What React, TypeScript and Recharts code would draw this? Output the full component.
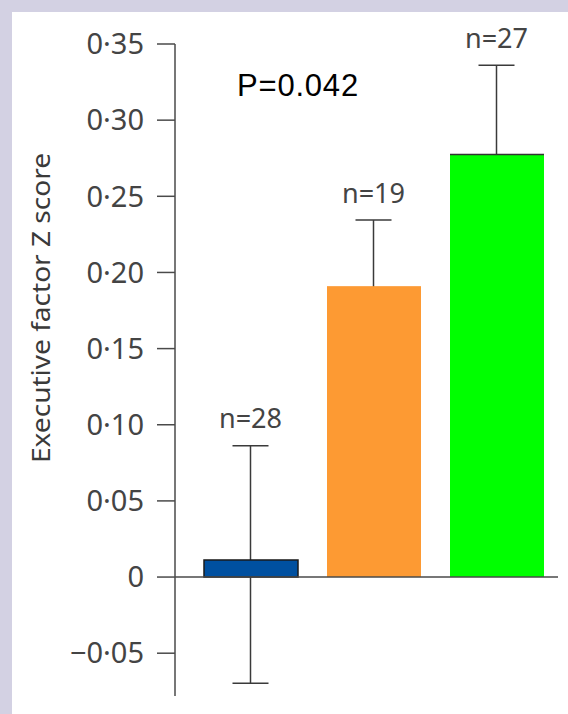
import React from 'react';
import {
  ComposedChart,
  Bar,
  Cell,
  Scatter,
  ErrorBar,
  XAxis,
  YAxis,
  ReferenceLine,
  LabelList,
} from 'recharts';

const GROUPS = ['A', 'B', 'C'];
const MEANS = [0.0112, 0.191, 0.2775];
const ERR_LOW = [0.081, 0.043, 0.058];
const ERR_HIGH = [0.075, 0.0434, 0.0585];
const N_LABELS = ['n=28', 'n=19', 'n=27'];
const Y_TICKS = [-0.05, 0, 0.05, 0.1, 0.15, 0.2, 0.25, 0.3, 0.35];

const COLORS = ['#0050a0', '#fd9a33', '#00ff00'];

const data = GROUPS.map((g, i) => ({
  group: g,
  mean: MEANS[i],
  err: [ERR_LOW[i], ERR_HIGH[i]],
  top: MEANS[i] + ERR_HIGH[i],
  n: N_LABELS[i],
}));

const AXIS = '#4a4a4a';
const TICK_FONT = '"Noto Sans", "Open Sans", sans-serif';

const fmt = (v: number) =>
  v === 0 ? '0' : (v < 0 ? '\u2212' : '') + Math.abs(v).toFixed(2).replace('.', '\u00b7');

const BarShape = (props: any) => {
  const { x, y, width, height, fill, index } = props;
  return (
    <g>
      <rect
        x={x}
        y={y}
        width={width}
        height={height}
        fill={fill}
        stroke={index === 0 ? '#1a1a1a' : 'none'}
        strokeWidth={index === 0 ? 1.5 : 0}
      />
      {index === 2 && <line x1={x} x2={x + width} y1={y} y2={y} stroke="#333" strokeWidth={1.5} />}
    </g>
  );
};

const YLabel = () => {
  const cx = 40;
  const cy = 308;
  return (
    <text
      x={cx}
      y={cy}
      transform={`rotate(-90, ${cx}, ${cy})`}
      textAnchor="middle"
      dominantBaseline="central"
      fill="#3a3a3a"
      fontSize={25}
      fontFamily={TICK_FONT}
      textLength={310}
      lengthAdjust="spacingAndGlyphs"
    >
      Executive factor Z score
    </text>
  );
};

export default function App() {
  return (
    <div style={{ position: 'absolute', left: 0, top: 0, width: 568, height: 714, background: '#d3d1e3' }}>
      <div style={{ position: 'absolute', left: 12, top: 12, width: 556, height: 702, background: '#ffffff' }} />
      <div style={{ position: 'absolute', left: 0, top: 0 }}>
        <ComposedChart
          width={568}
          height={714}
          data={data}
          margin={{ top: 44, right: 10, bottom: 18, left: 0 }}
        >
          <XAxis dataKey="group" hide padding={{ left: 14, right: 0 }} />
          <YAxis
            width={175}
            domain={[-0.0781, 0.35]}
            allowDataOverflow
            ticks={Y_TICKS}
            interval={0}
            tickFormatter={fmt}
            tickSize={18}
            tickMargin={13}
            stroke={AXIS}
            strokeWidth={1.5}
            tick={{ fill: '#444', fontSize: 29, fontFamily: TICK_FONT }}
            label={<YLabel />}
          />
          <Scatter dataKey="mean" shape={() => <g />} isAnimationActive={false} zIndex={50}>
            <ErrorBar dataKey="err" direction="y" width={18} stroke="#3a3a3a" strokeWidth={1.5} zIndex={50} />
          </Scatter>
          <Bar dataKey="mean" barSize={94} shape={<BarShape />} isAnimationActive={false}>
            {data.map((d, i) => (
              <Cell key={d.group} fill={COLORS[i]} />
            ))}
          </Bar>
          <Scatter dataKey="top" shape={() => <g />} isAnimationActive={false}>
            <LabelList
              dataKey="n"
              position="top"
              offset={13}
              fill="#444"
              fontSize={27}
              fontFamily={TICK_FONT}
            />
          </Scatter>
          <ReferenceLine y={0} stroke={AXIS} strokeWidth={1.5} />
        </ComposedChart>
      </div>
      <div
        style={{
          position: 'absolute',
          left: 237,
          top: 69,
          fontFamily: '"Liberation Sans", Arial, sans-serif',
          fontSize: 31,
          color: '#000',
          lineHeight: '34px',
          letterSpacing: 0.8,
        }}
      >
        P=0.042
      </div>
    </div>
  );
}
